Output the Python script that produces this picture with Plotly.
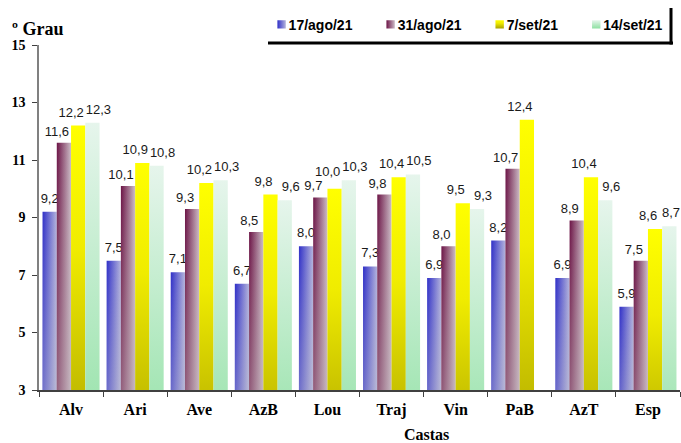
import plotly.graph_objects as go

categories = ["Alv", "Ari", "Ave", "AzB", "Lou", "Traj", "Vin", "PaB", "AzT", "Esp"]
series_names = ["17/ago/21", "31/ago/21", "7/set/21", "14/set/21"]
s_17ago = [9.2, 7.5, 7.1, 6.7, 8.0, 7.3, 6.9, 8.2, 6.9, 5.9]
s_31ago = [11.6, 10.1, 9.3, 8.5, 9.7, 9.8, 8.0, 10.7, 8.9, 7.5]
s_7set = [12.2, 10.9, 10.2, 9.8, 10.0, 10.4, 9.5, 12.4, 10.4, 8.6]
s_14set = [12.3, 10.8, 10.3, 9.6, 10.3, 10.5, 9.3, None, 9.6, 8.7]
y_ticks = [3, 5, 7, 9, 11, 13, 15]

series = [s_17ago, s_31ago, s_7set, s_14set]
base_colors = ["#6a6ad0", "#9a6a86", "#e0e000", "#b8ecc8"]

fig = go.Figure()
for name, vals, col in zip(series_names, series, base_colors):
    fig.add_trace(go.Bar(
        x=categories, y=vals, name=name,
        marker=dict(color=col, line=dict(width=0)),
        text=vals, texttemplate="%{y:.1f}", textposition="outside",
        constraintext="none", cliponaxis=False,
        textfont=dict(family="Liberation Sans, Arial", size=13, color="#1a1a1a"),
    ))

fig.update_layout(
    width=681, height=443,
    margin=dict(l=39, r=1, t=45, b=53, autoexpand=False),
    paper_bgcolor="white", plot_bgcolor="white",
    separators=",.",
    barmode="group", bargap=0.11, bargroupgap=0,
    showlegend=True,
    legend=dict(
        orientation="h", x=0.327, xanchor="left", y=1.105, yanchor="top",
        font=dict(family="Liberation Sans, Arial", size=14, color="black", weight="bold"),
        bgcolor="rgba(0,0,0,0)", borderwidth=0, traceorder="normal",
    ),
    xaxis=dict(
        type="category", showline=True, linecolor="#404040", linewidth=1.5,
        ticks="outside", ticklen=5, tickcolor="#404040", tickson="boundaries",
        ticklabelstandoff=4,
        tickfont=dict(family="Liberation Serif, Times New Roman", size=16, color="black", weight="bold"),
        showgrid=False, zeroline=False,
    ),
    yaxis=dict(
        range=[3, 15], tickvals=y_ticks, showline=True, linecolor="#808080", linewidth=1.5,
        ticks="outside", ticklen=5, tickcolor="#404040", ticklabelstandoff=4,
        tickfont=dict(family="Liberation Serif, Times New Roman", size=14, color="black", weight="bold"),
        showgrid=False, zeroline=False,
    ),
    annotations=[
        dict(text="Castas", xref="paper", yref="paper", x=(426 - 39) / 641, y=-0.128,
             xanchor="center", yanchor="middle", showarrow=False,
             font=dict(family="Liberation Serif, Times New Roman", size=16, color="black", weight="bold")),
        dict(text="º Grau", xref="paper", x=-0.046, xanchor="left", yref="paper", y=1.047, yanchor="middle",
             showarrow=False, font=dict(family="Liberation Serif, Times New Roman", size=18, color="black", weight="bold")),
    ],
    shapes=[
        dict(type="line", xref="paper", yref="paper", x0=(268 - 39) / 641, x1=(673 - 39) / 641,
             y0=(390 - 43) / 345, y1=(390 - 43) / 345, line=dict(color="black", width=3)),
        dict(type="line", xref="paper", yref="paper", x0=(671 - 39) / 641, x1=(671 - 39) / 641,
             y0=(390 - 8) / 345, y1=(390 - 44.5) / 345, line=dict(color="black", width=3)),
    ],
)

post = r"""
document.body.style.margin = '0';
document.body.style.padding = '0';
var gd = document.getElementById('{plot_id}');
(function(){
  var svg = gd.querySelector('svg.main-svg');
  var NS = 'http://www.w3.org/2000/svg';
  var defs = svg.querySelector('defs');
  function grad(id, vertical, stops){
    var g = document.createElementNS(NS, 'linearGradient');
    g.setAttribute('id', id);
    g.setAttribute('x1', '0'); g.setAttribute('y1', '0');
    g.setAttribute('x2', vertical ? '0' : '1'); g.setAttribute('y2', vertical ? '1' : '0');
    stops.forEach(function(s){
      var st = document.createElementNS(NS, 'stop');
      st.setAttribute('offset', s[0]); st.setAttribute('stop-color', s[1]);
      st.setAttribute('stop-opacity', s[2] === undefined ? 1 : s[2]);
      g.appendChild(st);
    });
    defs.appendChild(g);
  }
  grad('g0', false, [[0,'#3030c8'],[1,'#b4b4dc']]);
  grad('g1', false, [[0,'#6c1446'],[1,'#ccbcc6']]);
  grad('g2', true, [[0,'#ffff00'],[0.35,'#f0ec00'],[1,'#a8a000']]);
  grad('g3', true, [[0,'#e6f5ec'],[1,'#8ce0a0']]);
  grad('o0', true, [[0,'#c4c4cc',0],[1,'#c4c4cc',0.65]]);
  grad('o1', true, [[0,'#c0b4ba',0],[1,'#c0b4ba',0.65]]);
  // per-series label nudges (Excel-like label placement), then simple collision avoidance
  var shifts = [[0,-3],[-7,-1],[-7,-3],[6,-3]];
  var W = svg.getBoundingClientRect().width;
  var placed = [];
  var traces = gd.querySelectorAll('.barlayer .trace.bars');
  traces.forEach(function(t, i){
    t.querySelectorAll('g.point > path').forEach(function(p){
      p.style.fill = 'url(#g' + i + ')';
      if (i < 2) {
        var c = p.cloneNode(false);
        c.style.fill = 'url(#o' + i + ')';
        c.style.pointerEvents = 'none';
        p.parentNode.insertBefore(c, p.nextSibling);
      }
    });
  });
  traces.forEach(function(t, i){
    t.querySelectorAll('g.point text').forEach(function(tx){
      var tr = tx.getAttribute('transform') || '';
      var dx = shifts[i][0], dy = shifts[i][1];
      function apply(){ tx.setAttribute('transform', 'translate(' + dx + ',' + dy + ') ' + tr); }
      apply();
      var r = tx.getBoundingClientRect();
      if (r.right > W - 1) { dx -= (r.right - (W - 1)); apply(); }
      for (var k = 0; k < placed.length; k++) {
        r = tx.getBoundingClientRect();
        var o = placed[k];
        var ix = Math.min(r.right, o.right) - Math.max(r.left, o.left);
        var iy = Math.min(r.bottom, o.bottom) - Math.max(r.top, o.top);
        if (ix > 1 && iy > 1) { dy -= (r.bottom - o.top) - 1; apply(); k = -1; }
      }
      placed.push(tx.getBoundingClientRect());
    });
  });
  var leg = gd.querySelectorAll('.legend .traces');
  leg.forEach(function(t, i){
    t.querySelectorAll('.legendpoints path').forEach(function(p){
      p.style.fill = 'url(#g' + i + ')';
      p.setAttribute('transform', 'translate(33,0) scale(0.7)');
    });
  });
})();
"""

fig.write_html("out.html", post_script=post, config={"displayModeBar": False})
